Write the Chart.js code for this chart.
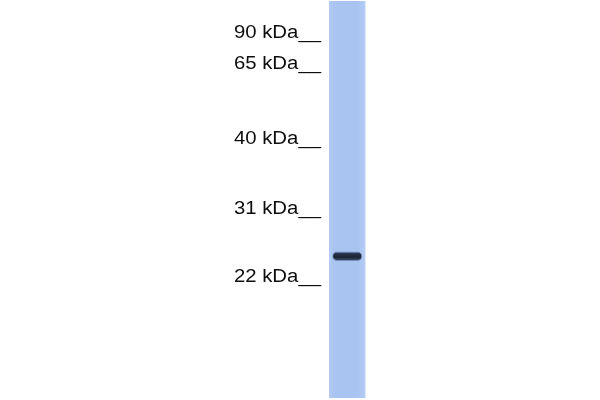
<!DOCTYPE html>
<html>
<head>
<meta charset="utf-8">
<script src="https://cdn.jsdelivr.net/npm/chart.js@4.4.1/dist/chart.umd.min.js"></script>
<style>
  html, body { margin: 0; padding: 0; background: #ffffff; }
  #wrap { width: 600px; height: 400px; position: relative; }
</style>
</head>
<body>
<div id="wrap"><canvas id="c" width="600" height="400"></canvas></div>
<script>
// Lane categories
const lanes = ['Sample'];
// Molecular weight markers (labels and relative migration, % of lane length)
const markerLabels = ['90 kDa', '65 kDa', '40 kDa', '31 kDa', '22 kDa'];
const markerMigration = [8.1, 15.8, 34.8, 52.5, 69.5];
// Lane extent (relative migration, %)
const laneRange = [0, 100];
// Detected band (relative migration, %)
const bandRange = [63.1, 65.5];

const laneColor = '#aac6f3';

const stretchText = {
  id: 'stretchText',
  beforeDraw(chart) {
    const ctx = chart.ctx;
    const orig = ctx.fillText;
    ctx._origFillText = orig;
    ctx.fillText = function (t, x, y, w) {
      this.save();
      this.translate(x, y);
      this.scale(1.13, 1);
      orig.call(this, t, 0, 0);
      this.restore();
    };
  },
  afterDraw(chart) {
    const ctx = chart.ctx;
    if (ctx._origFillText) { ctx.fillText = ctx._origFillText; delete ctx._origFillText; }
  }
};

new Chart(document.getElementById('c'), {
  type: 'bar',
  data: {
    labels: lanes,
    datasets: [
      {
        label: 'Band',
        data: [bandRange],
        order: 0,
        grouped: false,
        barPercentage: 0.83,
        categoryPercentage: 1,
        borderRadius: 5,
        borderSkipped: false,
        borderWidth: 1,
        borderColor: 'rgba(70,90,130,0.5)',
        backgroundColor(ctx) {
          const chart = ctx.chart;
          if (!chart.chartArea) return '#243044';
          const ys = chart.scales.y;
          const y0 = ys.getPixelForValue(bandRange[0]);
          const y1 = ys.getPixelForValue(bandRange[1]);
          const g = chart.ctx.createLinearGradient(0, Math.min(y0, y1), 0, Math.max(y0, y1));
          g.addColorStop(0, 'rgba(55,72,108,0.85)');
          g.addColorStop(0.25, '#26314a');
          g.addColorStop(0.6, '#1c2533');
          g.addColorStop(1, 'rgba(55,72,108,0.9)');
          return g;
        }
      },
      {
        label: 'Lane',
        data: [laneRange],
        order: 1,
        grouped: false,
        barPercentage: 1,
        categoryPercentage: 1,
        borderWidth: 0,
        backgroundColor(ctx) {
          const chart = ctx.chart;
          const a = chart.chartArea;
          if (!a) return laneColor;
          const g = chart.ctx.createLinearGradient(a.left, 0, a.right, 0);
          g.addColorStop(0, '#b3cbf4');
          g.addColorStop(0.15, '#a9c4f0');
          g.addColorStop(0.8, '#a9c4f0');
          g.addColorStop(1, '#b5cdf5');
          return g;
        }
      }
    ]
  },
  options: {
    responsive: false,
    animation: false,
    devicePixelRatio: 1,
    layout: { padding: { top: 1, bottom: 2, left: 0, right: 234.5 } },
    plugins: { legend: { display: false }, tooltip: { enabled: false }, title: { display: false } },
    scales: {
      x: { display: false },
      y: {
        reverse: true,
        min: 0,
        max: 100,
        afterFit(scale) {
          scale.width = 329;
          scale.paddingTop = 0;
          scale.paddingBottom = 0;
        },
        afterBuildTicks(scale) {
          scale.ticks = markerMigration.map(v => ({ value: v }));
        },
        grid: { display: false, drawTicks: false },
        border: { display: false },
        ticks: {
          padding: 8,
          color: '#0d0d0d',
          font: { family: '"Liberation Sans", Arial, sans-serif', size: 18 },
          autoSkip: false,
          callback(value) {
            const i = markerMigration.indexOf(value);
            return i >= 0 ? markerLabels[i] + '__' : '';
          }
        }
      }
    }
  },
  plugins: [stretchText]
});
</script>
</body>
</html>
